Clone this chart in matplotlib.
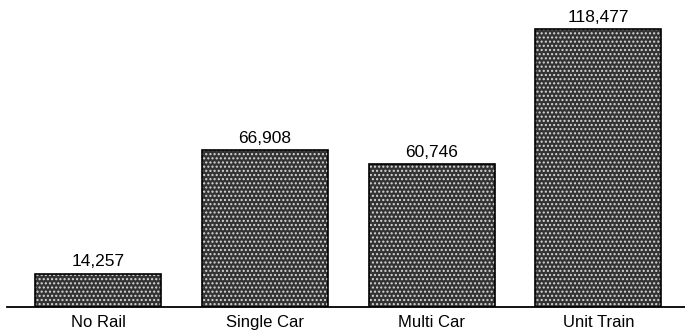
import matplotlib.pyplot as plt

# shipments by rail service type
categories = ["No Rail", "Single Car", "Multi Car", "Unit Train"]
values = [14257, 66908, 60746, 118477]

plt.rcParams["font.family"] = ["Liberation Sans", "DejaVu Sans"]

fig = plt.figure(figsize=(6.85, 3.32), dpi=100)
ax = fig.add_axes([7 / 685, 25 / 332, 678 / 685, 307 / 332])

x = range(len(categories))
# dark halftone-looking fill, then a crisp black outline on top
ax.bar(x, values, width=0.755, color="#333333", edgecolor="#d8d8d8",
       hatch="....", linewidth=0)
ax.bar(x, values, width=0.755, facecolor="none", edgecolor="black", linewidth=1.2)

for i, v in zip(x, values):
    ax.text(i, v + 1800, f"{v:,}", ha="center", va="bottom", fontsize=12.5)

ax.set_xlim(-0.546, 3.519)
ax.set_ylim(0, 130800)
ax.set_xticks(list(x))
ax.set_xticklabels(categories, fontsize=12)
ax.tick_params(axis="x", length=0, pad=6)
ax.set_yticks([])
for side in ["top", "right", "left"]:
    ax.spines[side].set_visible(False)
ax.spines["bottom"].set_linewidth(1.3)

fig.savefig("out.png", dpi=100)
